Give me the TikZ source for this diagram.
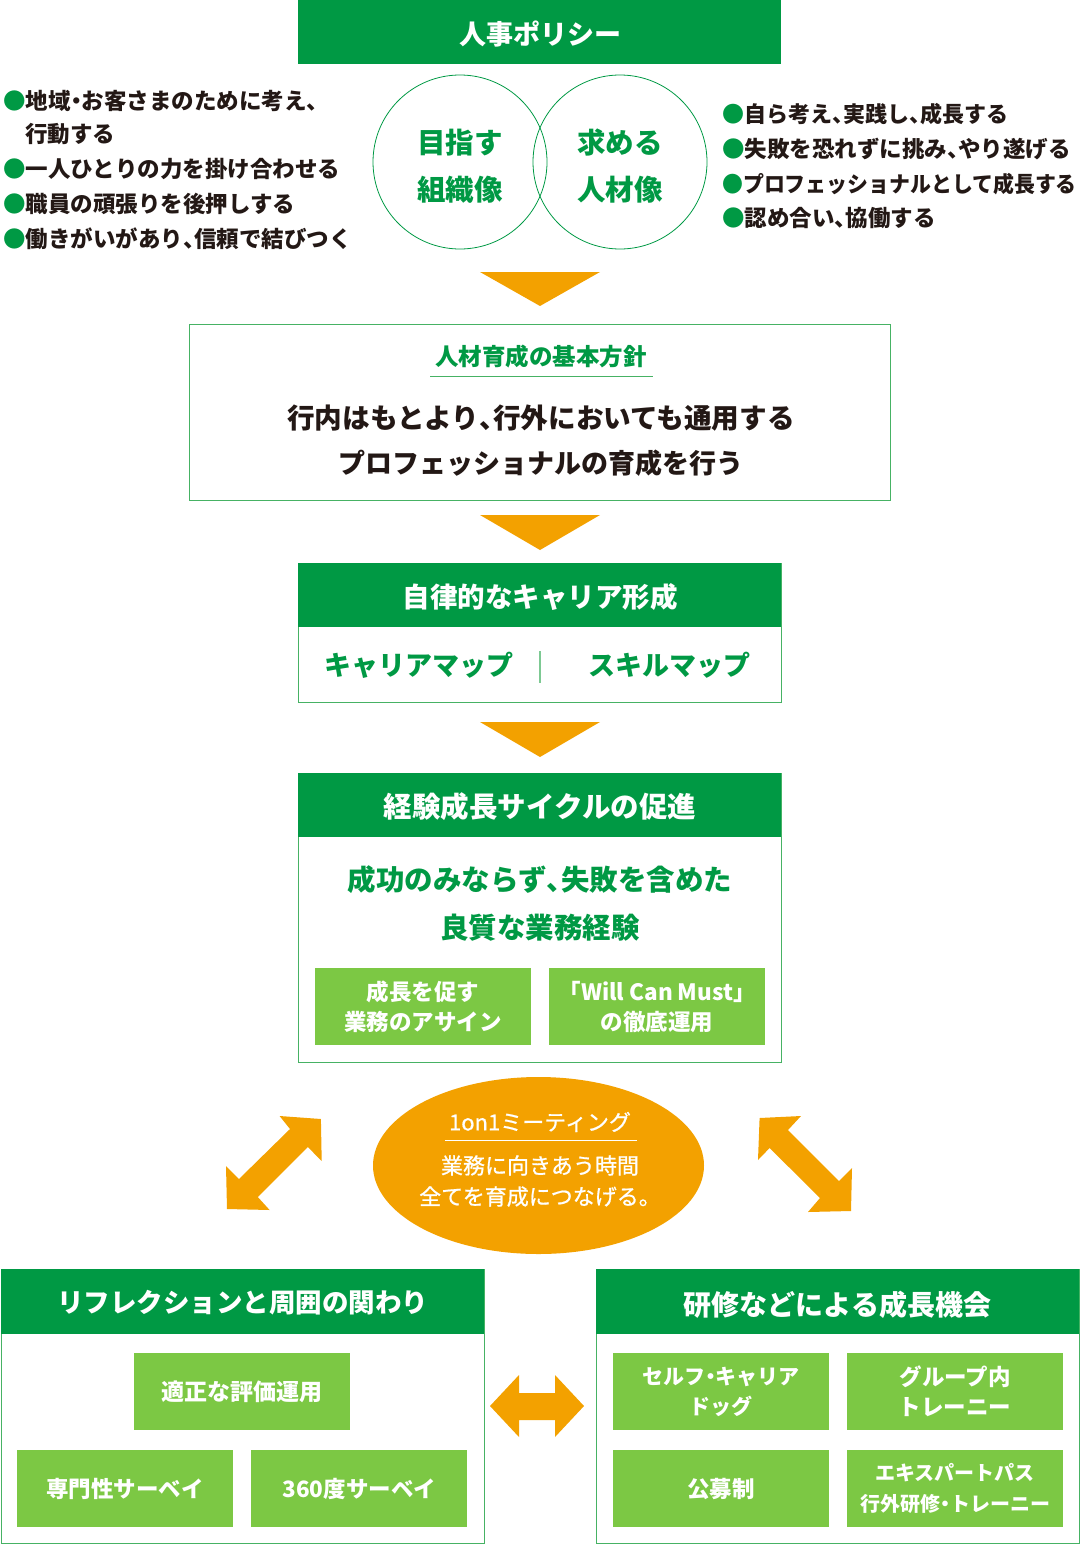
\documentclass[tikz,border=0pt]{standalone}
\usepackage{fontspec}
\setmainfont{Noto Sans CJK JP}
\newfontfamily\jpmed{Noto Sans CJK JP}[FakeBold=0.8]
\usetikzlibrary{shapes.geometric}
\definecolor{dgreen}{RGB}{0,153,68}
\definecolor{lgreen}{RGB}{124,200,68}
\definecolor{bgreen}{RGB}{70,178,100}
\definecolor{orng}{RGB}{243,161,0}
\definecolor{tblack}{RGB}{35,24,21}
\newcommand{\fs}[2]{\fontsize{#1}{#2}\selectfont}
\newcommand{\tten}{\makebox[0.5em][l]{、}}
\newcommand{\nak}{\makebox[0.5em][c]{・}}
\tikzset{
  hdr/.style={fill=dgreen, text=white, inner sep=0pt, anchor=north west, minimum height=64pt,
    font=\bfseries\fs{27}{32}},
  frame/.style={draw=bgreen, line width=1.2pt, fill=white, inner sep=0pt, anchor=north west},
  chip/.style={fill=lgreen, text=white, inner sep=0pt, anchor=north west, align=center,
    minimum width=216pt, minimum height=77pt, font=\bfseries\fs{22.5}{30}},
  tri/.style={fill=orng},
  blt/.style={anchor=west, inner sep=0pt, text=tblack, font=\bfseries\fs{22}{26}},
  gtxt/.style={text=dgreen, inner sep=0pt, align=center},
  htxt/.style={text=white, inner sep=0pt},
  ring/.style={circle, draw=dgreen, line width=0.8pt, minimum size=174pt, inner sep=0pt},
}
\newcommand{\gb}{\textcolor{dgreen}{●}}
\begin{document}
\begin{tikzpicture}[x=1pt,y=-1pt]
\useasboundingbox (0,0) rectangle (1080,1544);

% ---- HR policy
\node[hdr, minimum width=483pt] (policy) at (298,0) {};
\node[htxt, font=\bfseries\fs{27}{32}] (policyt) at (540,34) {人事ポリシー};
\node[ring] (org) at (460,162) {};
\node[ring] (hr) at (620,162) {};
\node[gtxt, font=\bfseries\fs{28.5}{47}] (orgt) at (460,166) {目指す\\組織像};
\node[gtxt, font=\bfseries\fs{28.5}{47}] (hrt) at (620,166) {求める\\人材像};

\node[blt, font=\bfseries\fs{22.5}{26}] (l1) at (3,101) {\gb 地域\nak お客さまのために考え\tten};
\node[blt, font=\bfseries\fs{22.5}{26}] (l1b) at (25,134) {行動する};
\node[blt, font=\bfseries\fs{22.5}{26}] (l2) at (3,169) {\gb 一人ひとりの力を掛け合わせる};
\node[blt, font=\bfseries\fs{22.5}{26}] (l3) at (3,204) {\gb 職員の頑張りを後押しする};
\node[blt, font=\bfseries\fs{22.5}{26}] (l4) at (3,239) {\gb 働きがいがあり\tten 信頼で結びつく};

\node[blt] (r1) at (722,114) {\gb 自ら考え\tten 実践し\tten 成長する};
\node[blt, font=\bfseries\fs{22.5}{26}] (r2) at (722,149) {\gb 失敗を恐れずに挑み\tten やり遂げる};
\node[blt] (r3) at (722,184) {\scalebox{0.95}[1]{\gb プロフェッショナルとして成長する}};
\node[blt, font=\bfseries\fs{22.5}{26}] (r4) at (722,218) {\gb 認め合い\tten 協働する};

\fill[tri] (480,272) -- (600,272) -- (540,306) -- cycle;

% ---- basic policy
\node[frame, minimum width=701pt, minimum height=176pt] (basic) at (189,324) {};
\node[gtxt, font=\bfseries\fs{23.5}{26}] (basict) at (541,357) {人材育成の基本方針};
\draw[bgreen, line width=1pt] (430,376) coordinate (ul1) -- (653,376) coordinate (ul2);
\node[inner sep=0pt, align=center, text=tblack, font=\bfseries\fs{27}{45}] (basicm) at (541,441)
  {{\fs{27.6}{45}行内はもとより\tten 行外においても通用する}\\プロフェッショナルの育成を行う};

\fill[tri] (480,515) -- (600,515) -- (540,550) -- cycle;

% ---- career
\node[frame, minimum width=483pt, minimum height=139pt] (career) at (298,563) {};
\node[hdr, minimum width=483pt] (careerh) at (298,563) {};
\node[htxt, font=\bfseries\fs{27.5}{32}] (careert) at (540,597) {自律的なキャリア形成};
\node[gtxt, font=\bfseries\fs{27}{30}] (cmap) at (419,665) {キャリアマップ};
\node[gtxt, font=\bfseries\fs{27}{30}] (smap) at (669,665) {スキルマップ};
\draw[bgreen!70, line width=1.5pt] (540,651) coordinate (s1) -- (540,683) coordinate (s2);

\fill[tri] (480,722) -- (600,722) -- (540,757) -- cycle;

% ---- experience cycle
\node[frame, minimum width=483pt, minimum height=289pt] (cycle) at (298,773) {};
\node[hdr, minimum width=483pt] (cycleh) at (298,773) {};
\node[htxt, font=\bfseries\fs{28.5}{32}] (cyclett) at (540,807) {経験成長サイクルの促進};
\node[gtxt, font=\bfseries\fs{28.5}{48}] (cyclet) at (540,903) {成功のみならず\tten 失敗を含めた\\良質な業務経験};
\node[chip] (c1) at (315,968) {成長を促す\\業務のアサイン};
\node[chip] (c2) at (549,968) {「Will Can Must」\\の徹底運用};

% ---- 1on1
\node[ellipse, fill=orng, minimum width=331pt, minimum height=177pt, inner sep=0pt] (one) at (538.5,1165.5) {};
\node[text=white, inner sep=0pt, font=\jpmed\fs{22}{26}] (onet) at (540,1122) {1on1ミーティング};
\draw[white, line width=1pt] (445,1140) coordinate (u1) -- (637,1140) coordinate (u2);
\node[text=white, inner sep=0pt, align=center, font=\jpmed\fs{22}{31}] (onem) at (540,1181) {業務に向きあう時間\\全てを育成につなげる。};

% diagonal double arrows
\fill[orng] (279.6,1116) -- (320.9,1119) -- (321.7,1161) -- (307.8,1147) -- (257.8,1197) -- (269.6,1210)
  -- (227,1209) -- (226,1166) -- (239,1179) -- (290,1129) -- cycle;
\fill[orng] (759.6,1118) -- (801,1116) -- (788,1130) -- (839,1181) -- (852,1168) -- (851,1211)
  -- (808,1212) -- (820,1198) -- (769.6,1148) -- (758,1160) -- cycle;

% horizontal double arrow
\fill[orng] (490,1406) -- (519,1375) -- (519,1393) -- (555,1393) -- (555,1375) -- (584,1406)
  -- (555,1437) -- (555,1420) -- (519,1420) -- (519,1437) -- cycle;

% ---- reflection
\node[frame, minimum width=483pt, minimum height=274pt] (refl) at (1,1269) {};
\node[hdr, minimum width=483pt, minimum height=65pt] (reflh) at (1,1269) {};
\node[htxt, font=\bfseries\fs{26.5}{32}] (reflt) at (242.5,1303) {リフレクションと周囲の関わり};
\node[chip, font=\bfseries\fs{23}{30}] (e1) at (134,1353) {適正な評価運用};
\node[chip] (e2) at (17,1450) {専門性サーベイ};
\node[chip] (e3) at (251,1450) {360度サーベイ};

% ---- training
\node[frame, minimum width=483pt, minimum height=274pt] (train) at (596,1269) {};
\node[hdr, minimum width=483pt, minimum height=65pt] (trainh) at (596,1269) {};
\node[htxt, font=\bfseries\fs{28}{32}] (traint) at (837.5,1305) {研修などによる成長機会};
\node[chip, font=\bfseries\fs{21}{30}] (t1) at (613,1353) {セルフ\nak キャリア\\ドッグ};
\node[chip] (t2) at (847,1353) {グループ内\\トレーニー};
\node[chip] (t3) at (613,1450) {公募制};
\node[chip, font=\bfseries\fs{20}{31}] (t4) at (847,1450) {エキスパートパス\\行外研修\nak トレーニー};
\end{tikzpicture}
\end{document}
